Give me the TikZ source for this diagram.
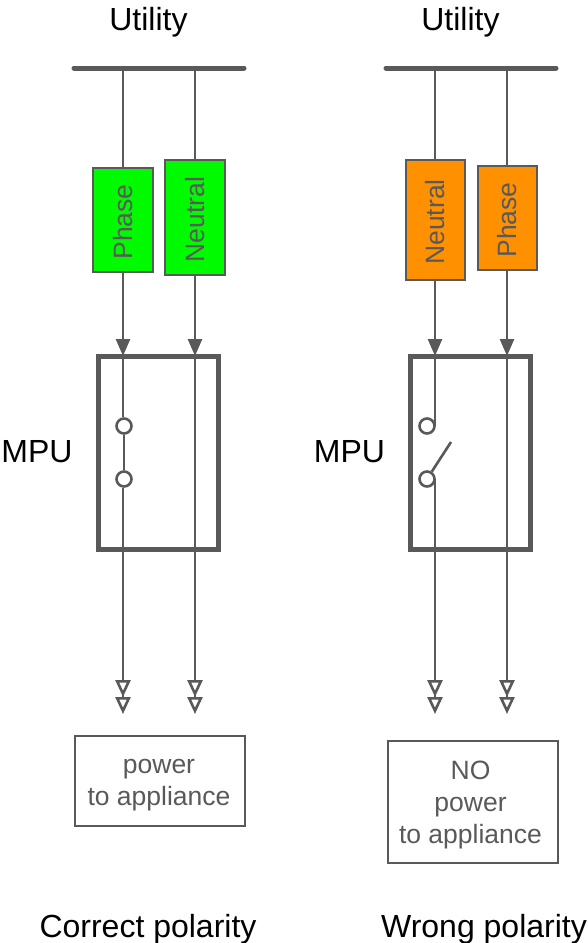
\documentclass[tikz,border=0pt]{standalone}
\usepackage{fontspec}
\setmainfont{Liberation Sans}
\usetikzlibrary{arrows.meta}
\definecolor{ln}{HTML}{595959}
\definecolor{grn}{HTML}{00FA00}
\definecolor{org}{HTML}{FF9100}
\tikzset{
 x=1pt,y=-1pt,
 bigtxt/.style={font=\fontsize{32}{36}\selectfont,text=black,inner sep=0pt},
 fuse/.style={draw=ln,line width=2.6pt,minimum width=58pt,inner sep=0pt,text=ln,font=\fontsize{26.5}{30}\selectfont},
 mpubox/.style={draw=ln,line width=5pt,minimum width=120pt,minimum height=193pt,inner sep=0pt},
 wire/.style={draw=ln,line width=2.6pt},
 bus/.style={draw=ln,line width=5pt,line cap=round},
 feed/.style={wire,-{Triangle[length=17pt,width=14pt,fill=ln]}},
 load/.style={wire,-{Triangle[open,length=17pt,width=15pt,line width=2.6pt,fill=white]Triangle[open,length=17pt,width=15pt,line width=2.6pt,fill=white,sep=-1pt]}},
 outbox/.style={draw=ln,line width=2pt,minimum width=170pt,inner sep=0pt},
 outtxt/.style={inner sep=0pt,align=center,text=ln,font=\fontsize{26.5}{32}\selectfont},
 contact/.style={circle,draw=ln,line width=2.6pt,fill=white,minimum size=15pt,inner sep=0pt},
}
\begin{document}
\begin{tikzpicture}
\useasboundingbox (0,0) rectangle (588,943);
% Left
\node[bigtxt] (ul) at (148.5,22) {Utility};
\coordinate (busLa) at (74,68); \coordinate (busLb) at (244,68);
\coordinate (tLp) at (123,68); \coordinate (tLn) at (195,68);
\node[fuse,fill=grn,minimum width=60pt,minimum height=104pt] (fLp) at (123,220) {\rotatebox{90}{Phase\hspace{4pt}}};
\node[fuse,fill=grn,minimum width=60pt,minimum height=115pt] (fLn) at (195,217.5) {\rotatebox{90}{Neutral\hspace{4pt}}};
\node[mpubox] (mL) at (158.5,452.5) {};
\node[bigtxt] (mpuL) at (37,452) {MPU};
\node[contact] (c1L) at (124,426) {};
\node[contact] (c2L) at (124,479) {};
\coordinate (inLp) at (123,356); \coordinate (inLn) at (195,356);
\coordinate (outLp) at (123,713); \coordinate (outLn) at (195,713);
\node[outbox,minimum height=90pt] (pL) at (159.5,781) {};
\node[outtxt] (pLt) at (159,785) {power\\to appliance};
\node[bigtxt] (capL) at (148,929) {Correct polarity};
\draw[wire] (tLp) -- (fLp.north);
\draw[wire] (tLn) -- (fLn.north);
\draw[feed] (fLp.south) -- (inLp);
\draw[feed] (fLn.south) -- (inLn);
\draw[wire] (inLp) -- (inLp |- c1L.north);
\draw[wire] (c1L) -- (c2L);
\draw[load] (c2L.south -| inLp) -- (outLp);
\draw[load] (inLn) -- (outLn);
\draw[bus] (busLa) -- (busLb);
% Right
\node[bigtxt] (ur) at (460.5,22) {Utility};
\coordinate (busRa) at (386,68); \coordinate (busRb) at (556,68);
\coordinate (tRn) at (435,68); \coordinate (tRp) at (507,68);
\node[fuse,fill=org,minimum width=59pt,minimum height=120pt] (fRn) at (435.5,220) {\rotatebox{90}{Neutral\hspace{4pt}}};
\node[fuse,fill=org,minimum width=59pt,minimum height=104pt] (fRp) at (507.5,218) {\rotatebox{90}{Phase\hspace{4pt}}};
\node[mpubox] (mR) at (470.5,452.5) {};
\node[bigtxt] (mpuR) at (349.5,452) {MPU};
\node[contact] (c1R) at (427,426) {};
\node[contact] (c2R) at (427,479) {};
\coordinate (swR) at (451,442);
\coordinate (inRn) at (435,356); \coordinate (inRp) at (507,356);
\coordinate (outRn) at (435,713); \coordinate (outRp) at (507,713);
\node[outbox,minimum height=122pt] (pR) at (472.5,802) {};
\node[outtxt] (pRt) at (470.5,805) {NO\\power\\to appliance};
\node[bigtxt] (capR) at (484,929) {Wrong polarity};
\draw[wire] (tRn) -- (tRn |- fRn.north);
\draw[wire] (tRp) -- (tRp |- fRp.north);
\draw[feed] (tRn |- fRn.south) -- (inRn);
\draw[feed] (tRp |- fRp.south) -- (inRp);
\draw[wire] (inRn) -- (inRn |- c1R.east);
\draw[wire] (c2R) -- (swR);
\draw[load] (inRn |- c2R.east) -- (outRn);
\draw[load] (inRp) -- (outRp);
\draw[bus] (busRa) -- (busRb);
\end{tikzpicture}
\end{document}
